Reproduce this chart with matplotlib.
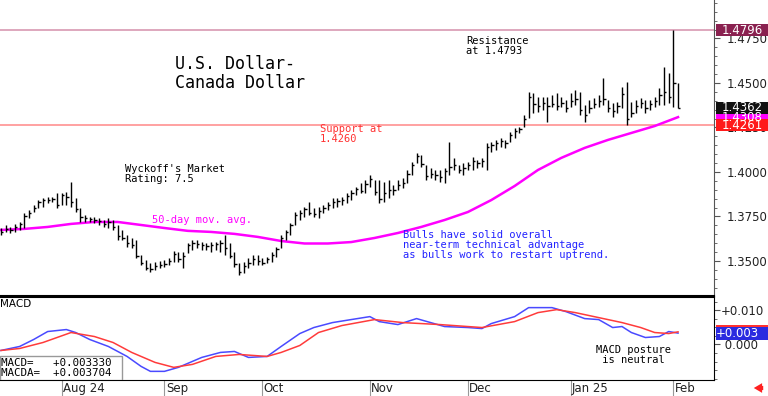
import matplotlib
matplotlib.use('Agg')
import matplotlib.pyplot as plt
import matplotlib.transforms as mtransforms
from matplotlib.patches import Rectangle
from matplotlib.ticker import MultipleLocator, FixedLocator, FuncFormatter

# Barras diarias USD/CAD (máximo, mínimo, cierre)
high = [1.3685, 1.3702, 1.3691, 1.3708, 1.3719, 1.3769, 1.3786, 1.3814, 1.3842, 1.3854,
        1.3859, 1.3859, 1.3882, 1.3882, 1.3887, 1.3944, 1.3854, 1.3797, 1.3758, 1.3747,
        1.3747, 1.3741, 1.3730, 1.3741, 1.3730, 1.3702, 1.3674, 1.3646, 1.3629, 1.3618,
        1.3533, 1.3505, 1.3489, 1.3494, 1.3500, 1.3505, 1.3517, 1.3556, 1.3550, 1.3550,
        1.3601, 1.3618, 1.3618, 1.3606, 1.3601, 1.3606, 1.3606, 1.3618, 1.3646, 1.3601,
        1.3550, 1.3489, 1.3494, 1.3517, 1.3533, 1.3533, 1.3517, 1.3522, 1.3550, 1.3578,
        1.3646, 1.3674, 1.3713, 1.3775, 1.3786, 1.3803, 1.3831, 1.3797, 1.3803, 1.3814,
        1.3831, 1.3854, 1.3854, 1.3859, 1.3882, 1.3899, 1.3916, 1.3938, 1.3955, 1.3983,
        1.3955, 1.3955, 1.3944, 1.3955, 1.3927, 1.3955, 1.3966, 1.4011, 1.4056, 1.4106,
        1.4095, 1.4039, 1.4022, 1.4011, 1.4011, 1.4022, 1.4169, 1.4079, 1.4039, 1.4050,
        1.4056, 1.4084, 1.4067, 1.4079, 1.4163, 1.4169, 1.4180, 1.4191, 1.4180, 1.4225,
        1.4247, 1.4253, 1.4320, 1.4449, 1.4444, 1.4421, 1.4421, 1.4421, 1.4432, 1.4444,
        1.4421, 1.4404, 1.4444, 1.4460, 1.4449, 1.4376, 1.4404, 1.4416, 1.4432, 1.4528,
        1.4404, 1.4387, 1.4393, 1.4477, 1.4505, 1.4393, 1.4404, 1.4416, 1.4404, 1.4404,
        1.4421, 1.4472, 1.4590, 1.4556, 1.4796, 1.4500]
low = [1.3646, 1.3663, 1.3657, 1.3663, 1.3674, 1.3685, 1.3741, 1.3775, 1.3797, 1.3803,
       1.3826, 1.3831, 1.3797, 1.3814, 1.3814, 1.3803, 1.3775, 1.3719, 1.3719, 1.3719,
       1.3713, 1.3702, 1.3691, 1.3685, 1.3674, 1.3618, 1.3618, 1.3578, 1.3573, 1.3517,
       1.3477, 1.3449, 1.3438, 1.3449, 1.3460, 1.3466, 1.3477, 1.3494, 1.3494, 1.3460,
       1.3545, 1.3561, 1.3573, 1.3561, 1.3561, 1.3550, 1.3561, 1.3550, 1.3533, 1.3517,
       1.3466, 1.3421, 1.3432, 1.3460, 1.3477, 1.3477, 1.3477, 1.3489, 1.3494, 1.3522,
       1.3573, 1.3618, 1.3646, 1.3702, 1.3730, 1.3747, 1.3758, 1.3747, 1.3741, 1.3769,
       1.3786, 1.3797, 1.3803, 1.3814, 1.3826, 1.3842, 1.3871, 1.3882, 1.3882, 1.3916,
       1.3871, 1.3826, 1.3831, 1.3854, 1.3871, 1.3899, 1.3910, 1.3938, 1.3983, 1.4050,
       1.4028, 1.3955, 1.3966, 1.3955, 1.3944, 1.3938, 1.3983, 1.4011, 1.3994, 1.3983,
       1.4011, 1.4011, 1.4022, 1.4028, 1.4011, 1.4112, 1.4124, 1.4140, 1.4135, 1.4169,
       1.4191, 1.4219, 1.4253, 1.4303, 1.4331, 1.4337, 1.4348, 1.4281, 1.4365, 1.4348,
       1.4365, 1.4337, 1.4365, 1.4376, 1.4320, 1.4281, 1.4331, 1.4359, 1.4365, 1.4376,
       1.4337, 1.4309, 1.4331, 1.4359, 1.4261, 1.4309, 1.4331, 1.4359, 1.4331, 1.4348,
       1.4365, 1.4376, 1.4376, 1.4387, 1.4365, 1.4359]
close = [1.3663, 1.3680, 1.3675, 1.3690, 1.3705, 1.3755, 1.3770, 1.3800, 1.3830, 1.3840,
         1.3845, 1.3850, 1.3815, 1.3870, 1.3860, 1.3830, 1.3790, 1.3745, 1.3740, 1.3735,
         1.3730, 1.3725, 1.3705, 1.3720, 1.3690, 1.3640, 1.3630, 1.3600, 1.3590, 1.3530,
         1.3490, 1.3460, 1.3455, 1.3470, 1.3475, 1.3480, 1.3500, 1.3540, 1.3510, 1.3530,
         1.3590, 1.3600, 1.3595, 1.3590, 1.3585, 1.3590, 1.3595, 1.3600, 1.3570, 1.3530,
         1.3480, 1.3440, 1.3470, 1.3490, 1.3510, 1.3500, 1.3490, 1.3510, 1.3535, 1.3565,
         1.3630, 1.3660, 1.3700, 1.3760, 1.3770, 1.3790, 1.3770, 1.3765, 1.3780, 1.3795,
         1.3815, 1.3830, 1.3835, 1.3845, 1.3865, 1.3880, 1.3905, 1.3895, 1.3930, 1.3960,
         1.3890, 1.3850, 1.3880, 1.3900, 1.3900, 1.3925, 1.3940, 1.3990, 1.4040, 1.4090,
         1.4045, 1.3975, 1.3990, 1.3980, 1.3970, 1.4005, 1.4030, 1.4040, 1.4010, 1.4020,
         1.4040, 1.4060, 1.4050, 1.4060, 1.4140, 1.4150, 1.4160, 1.4175, 1.4165, 1.4210,
         1.4230, 1.4240, 1.4300, 1.4420, 1.4380, 1.4370, 1.4390, 1.4370, 1.4380, 1.4370,
         1.4390, 1.4360, 1.4400, 1.4410, 1.4350, 1.4320, 1.4360, 1.4380, 1.4400, 1.4410,
         1.4360, 1.4340, 1.4370, 1.4440, 1.4300, 1.4330, 1.4370, 1.4390, 1.4360, 1.4380,
         1.4400, 1.4430, 1.4450, 1.4420, 1.4500, 1.4362]

# media móvil de 50 días
ma_idx = [0, 5, 10, 15, 20, 25, 30, 35, 40, 45, 50, 55, 60, 65, 70, 75, 80, 85, 90, 95,
          100, 105, 110, 115, 120, 125, 130, 135, 140, 145]
ma_val = [1.3674, 1.3680, 1.3691, 1.3708, 1.3719, 1.3719, 1.3702, 1.3685, 1.3669, 1.3663,
          1.3652, 1.3635, 1.3612, 1.3598, 1.3598, 1.3606, 1.3629, 1.3657, 1.3691, 1.3730,
          1.3775, 1.3842, 1.3921, 1.4011, 1.4079, 1.4135, 1.4180, 1.4219, 1.4258, 1.4308]

# MACD (azul) y su media (rojo)
macd_idx = [0, 4, 7, 10, 14, 16, 19, 23, 27, 30, 32, 35, 38, 43, 47, 50, 53, 57, 60, 64,
            67, 71, 75, 79, 81, 85, 89, 95, 100, 103, 105, 110, 113, 118, 121, 125, 128,
            131, 133, 135, 138, 141, 143, 145]
macd_val = [-0.00175, -0.00058, 0.00146, 0.00379, 0.00437, 0.00350, 0.00146, -0.00058,
            -0.00350, -0.00641, -0.00787, -0.00787, -0.00670, -0.00379, -0.00233, -0.00204,
            -0.00379, -0.00350, -0.00058, 0.00320, 0.00496, 0.00641, 0.00729, 0.00816,
            0.00670, 0.00583, 0.00758, 0.00525, 0.00496, 0.00466, 0.00612, 0.00816,
            0.01079, 0.01079, 0.00962, 0.00758, 0.00729, 0.00496, 0.00525, 0.00350,
            0.00204, 0.00233, 0.00379, 0.00333]
sig_idx = [0, 4, 9, 15, 20, 24, 28, 33, 37, 41, 46, 51, 57, 60, 64, 68, 73, 80, 86, 94,
           103, 110, 115, 119, 123, 128, 133, 137, 140, 143, 145]
sig_val = [-0.00175, -0.00117, 0.00058, 0.00350, 0.00233, 0.00058, -0.00233, -0.00525,
           -0.00670, -0.00583, -0.00350, -0.00292, -0.00350, -0.00233, -0.00029, 0.00350,
           0.00554, 0.00729, 0.00641, 0.00583, 0.00496, 0.00670, 0.00933, 0.01020,
           0.00933, 0.00787, 0.00641, 0.00496, 0.00350, 0.00320, 0.00370]

month_pos = [13, 35, 56, 79, 100, 122, 144]
month_lbl = ['Aug 24', 'Sep', 'Oct', 'Nov', 'Dec', 'Jan 25', 'Feb']

resist = 1.4796
support = 1.4261
last_close = 1.4362
last_ma = 1.4308
macd_last = 0.003330
macda_last = 0.003704

MONO = 'DejaVu Sans Mono'
W, H = 768, 396

fig = plt.figure(figsize=(W / 100, H / 100), dpi=100, facecolor='white')
ax = fig.add_axes([0, 1 - 296 / H, 714 / W, 296 / H])
ax2 = fig.add_axes([0, 1 - 380 / H, 714 / W, 83 / H])

# ---- panel de precios ----
idx = list(range(len(high)))
ax.vlines(idx, low, high, color='black', lw=1.0, zorder=3)
ax.hlines(close, [i for i in idx], [i + 0.5 for i in idx], color='black', lw=1.0, zorder=3)
ax.plot(ma_idx, ma_val, color='#ff00ff', lw=1.8, zorder=2)
ax.axhline(resist, color='#dba0b8', lw=1.3, zorder=1)
ax.axhline(support, color='#ff9a9a', lw=1.3, zorder=1)

ax.set_xlim(-0.21, 152.7)
ax.set_ylim(1.3303, 1.4966)
for s in ['left', 'top']:
    ax.spines[s].set_visible(False)
ax.spines['right'].set_color('#555555')
ax.spines['bottom'].set_linewidth(1.5)
ax.set_xticks([])
ax.yaxis.tick_right()
ax.yaxis.set_major_locator(MultipleLocator(0.025))
ax.yaxis.set_minor_locator(MultipleLocator(0.005))
ax.yaxis.set_major_formatter(FuncFormatter(lambda v, p: f'{v:.4f}'))
ax.tick_params(axis='y', which='major', direction='out', length=4, color='#555555',
               labelsize=8.5, pad=5, labelcolor='#222222')
ax.tick_params(axis='y', which='minor', direction='out', length=2, color='#555555')

# cajas de valores a la derecha
tr = mtransforms.blended_transform_factory(fig.transFigure, ax.transData)
bh = 12 * (1.4966 - 1.3303) / 296
for val, col in [(last_ma, '#ff00ff'), (resist, '#8a2150'), (last_close, '#111111'),
                 (support, '#ff1a1a')]:
    ax.add_patch(Rectangle((716 / W, val - bh / 2), 52 / W, bh, transform=tr,
                           facecolor=col, edgecolor='none', clip_on=False, zorder=6))
    ax.text(722 / W, val, f'{val:.4f}', transform=tr, color='white', fontsize=8.5,
            va='center', ha='left', clip_on=False, zorder=7)

# textos
ax.text(0.245, 0.815, 'U.S. Dollar-\nCanada Dollar', transform=ax.transAxes,
        family=MONO, fontsize=12, va='top', ha='left', linespacing=1.1)
ax.text(0.653, 0.88, 'Resistance\nat 1.4793', transform=ax.transAxes,
        family=MONO, fontsize=7.5, va='top', ha='left', linespacing=1.0)
ax.text(0.175, 0.447, "Wyckoff's Market\nRating: 7.5", transform=ax.transAxes,
        family=MONO, fontsize=7.5, va='top', ha='left', linespacing=1.0)
ax.text(0.448, 0.582, 'Support at\n1.4260', transform=ax.transAxes, color='#ff3030',
        family=MONO, fontsize=7.5, va='top', ha='left', linespacing=1.0)
ax.text(0.213, 0.272, '50-day mov. avg.', transform=ax.transAxes, color='#ff00ff',
        family=MONO, fontsize=7.5, va='top', ha='left')
ax.text(0.564, 0.222, 'Bulls have solid overall\nnear-term technical advantage\n'
        'as bulls work to restart uptrend.', transform=ax.transAxes, color='#2222ff',
        family=MONO, fontsize=7.5, va='top', ha='left', linespacing=1.0)

# ---- panel MACD ----
ax2.plot(macd_idx, macd_val, color='#4a4aff', lw=1.1)
ax2.plot(sig_idx, sig_val, color='#ff3b3b', lw=1.1)
ax2.set_xlim(-0.21, 152.7)
ax2.set_ylim(-0.0104, 0.0139)
ax2.spines['left'].set_visible(False)
ax2.spines['top'].set_linewidth(1.5)
ax2.yaxis.tick_right()
ax2.yaxis.set_major_locator(FixedLocator([0.0, 0.01]))
ax2.yaxis.set_minor_locator(MultipleLocator(0.0025))
ax2.yaxis.set_major_formatter(FuncFormatter(lambda v, p: f'{v:+.3f}' if v > 0 else f' {v:.3f}'))
ax2.tick_params(axis='y', which='major', direction='out', length=4, color='#555555',
                labelsize=8.5, pad=1, labelcolor='#222222')
ax2.tick_params(axis='y', which='minor', direction='out', length=2, color='#555555')
ax2.set_xticks(month_pos)
ax2.tick_params(axis='x', direction='out', length=11.5, color='#999999', labelbottom=False)
trx = mtransforms.blended_transform_factory(ax2.transData, ax2.transAxes)
for pos, lbl in zip(month_pos, month_lbl):
    ax2.text(pos + 0.3, -0.105, lbl, transform=trx, fontsize=8.5, va='center', ha='left',
             color='#222222', clip_on=False)

tr2 = mtransforms.blended_transform_factory(fig.transFigure, ax2.transData)
bh2 = 13 * (0.0139 + 0.0104) / 83
for val, col in [(macda_last, '#ff3030'), (macd_last, '#2a2ae0')]:
    ax2.add_patch(Rectangle((716 / W, val - bh2 / 2), 52 / W, bh2, transform=tr2,
                            facecolor=col, edgecolor='none', clip_on=False, zorder=6))
ax2.text(716 / W, macd_last, '+0.003', transform=tr2, color='white', fontsize=8.5,
         va='center', ha='left', clip_on=False, zorder=7)

ax2.text(0.0, 0.97, 'MACD', transform=ax2.transAxes, fontsize=7.5, va='top', ha='left')
ax2.text(0.835, 0.42, 'MACD posture\n is neutral', transform=ax2.transAxes,
         family=MONO, fontsize=7.5, va='top', ha='left', linespacing=1.0)
ax2.add_patch(Rectangle((0, 0), 122 / 714, 24 / 83, transform=ax2.transAxes,
                        facecolor='white', edgecolor='#999999', lw=1, zorder=4))
ax2.text(0.002, 0.27, 'MACD=   +0.003330\nMACDA=  +0.003704', transform=ax2.transAxes,
         family=MONO, fontsize=7.8, va='top', ha='left', linespacing=1.05, zorder=5)

# flecha roja abajo a la derecha
fig.add_artist(plt.Annotation('', xy=(751, 8), xytext=(766, 8), xycoords='figure pixels',
                              textcoords='figure pixels',
                              arrowprops=dict(arrowstyle='simple,head_width=0.7,head_length=0.6,tail_width=0.3',
                                              color='#ff2020', lw=0)))

fig.savefig('out.png', dpi=100, facecolor='white')
